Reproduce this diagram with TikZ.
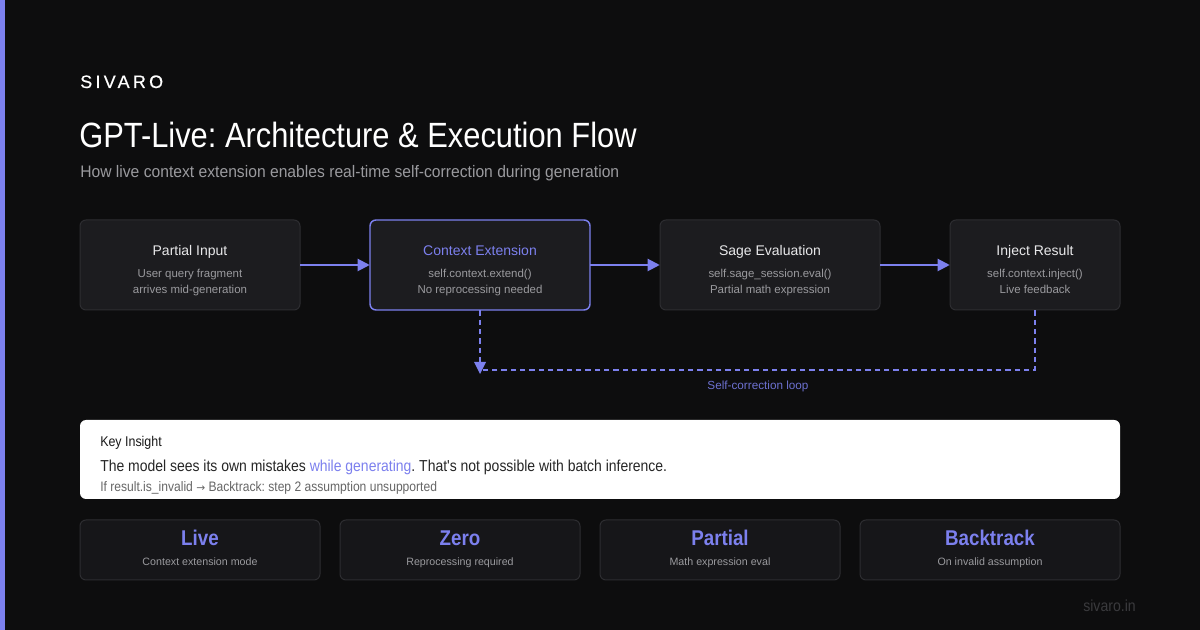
\documentclass[tikz,border=0pt]{standalone}
\usepackage{fontspec}
\setmainfont{Liberation Sans}
\newfontfamily\condf[FakeStretch=0.88]{Liberation Sans}
\newfontfamily\semif[FakeStretch=0.94]{Liberation Sans}
\newfontfamily\spacedf[LetterSpace=18,FakeBold=0.6]{Liberation Sans}
\usetikzlibrary{arrows.meta}
\frenchspacing
\definecolor{bgc}{HTML}{0D0D0E}
\definecolor{accent}{HTML}{7C80EE}
\definecolor{boxfill}{HTML}{1C1C1F}
\definecolor{boxline}{HTML}{2D2D31}
\definecolor{statfill}{HTML}{161619}
\definecolor{subgray}{HTML}{9A9A9E}
\definecolor{titlewhite}{HTML}{E8E8EA}
\definecolor{footgray}{HTML}{3A3A3D}
\tikzset{
  px/.style={x=0.75pt,y=-0.75pt},
  stepbox/.style={draw=boxline,line width=0.75pt,fill=boxfill,rounded corners=4.5pt},
  hibox/.style={draw=accent,line width=1.1pt,fill=boxfill,rounded corners=4.5pt},
  statbox/.style={draw=boxline,line width=0.75pt,fill=statfill,rounded corners=4.5pt},
  boxtitle/.style={anchor=base,inner sep=0pt,font=\fontsize{10.5}{12}\selectfont,text=titlewhite},
  boxsub/.style={anchor=base,inner sep=0pt,font=\fontsize{8.6}{10}\selectfont,text=subgray},
  flow/.style={draw=accent,line width=1.5pt,-{Triangle[length=9pt,width=9pt]}},
  loop/.style={draw=accent,line width=1.1pt,dash pattern=on 4pt off 3pt},
  statbig/.style={anchor=base,inner sep=0pt,font=\condf\bfseries\fontsize{16}{19}\selectfont,text=accent},
  statsub/.style={anchor=base,inner sep=0pt,font=\fontsize{8}{10}\selectfont,text=subgray},
}
\begin{document}
\begin{tikzpicture}[px]
\useasboundingbox (0,0) rectangle (1200,630);
\fill[bgc] (0,0) rectangle (1200,630);
\fill[accent] (0,0) rectangle (5,630);

\node[anchor=base west,inner sep=0pt,text=white,font=\spacedf\fontsize{13.5}{16}\selectfont] (brand) at (80,88) {SIVARO};
\node[anchor=base west,inner sep=0pt,text=white,font=\condf\fontsize{26.3}{30}\selectfont] (title) at (79,148) {GPT-Live: Architecture \& Execution Flow};
\node[anchor=base west,inner sep=0pt,text=subgray,font=\semif\fontsize{12.5}{15}\selectfont] (subtitle) at (80,178) {How live context extension enables real-time self-correction during generation};

% step boxes
\draw[stepbox] (80,220) rectangle (300,310);
\draw[hibox] (370,220) rectangle (590,310);
\draw[stepbox] (660,220) rectangle (880,310);
\draw[stepbox] (950,220) rectangle (1120,310);
\node[minimum width=165pt,minimum height=67.5pt,inner sep=0pt] (n1) at (190,265) {};
\node[minimum width=165pt,minimum height=67.5pt,inner sep=0pt] (n2) at (480,265) {};
\node[minimum width=165pt,minimum height=67.5pt,inner sep=0pt] (n3) at (770,265) {};
\node[minimum width=127.5pt,minimum height=67.5pt,inner sep=0pt] (n4) at (1035,265) {};

\node[boxtitle] (t1) at (190,256) {Partial Input};
\node[boxsub] (s1a) at (190,278) {User query fragment};
\node[boxsub] (s1b) at (190,294) {arrives mid-generation};
\node[boxtitle,text=accent] (t2) at (480,256) {Context Extension};
\node[boxsub] (s2a) at (480,278) {self.context.extend()};
\node[boxsub] (s2b) at (480,294) {No reprocessing needed};
\node[boxtitle] (t3) at (770,256) {Sage Evaluation};
\node[boxsub] (s3a) at (770,278) {self.sage\_session.eval()};
\node[boxsub] (s3b) at (770,294) {Partial math expression};
\node[boxtitle] (t4) at (1035,256) {Inject Result};
\node[boxsub] (s4a) at (1035,278) {self.context.inject()};
\node[boxsub] (s4b) at (1035,294) {Live feedback};

\draw[flow] (n1.east) -- (n2.west);
\draw[flow] (n2.east) -- (n3.west);
\draw[flow] (n3.east) -- (n4.west);

\coordinate (lc) at (1035,370);
\coordinate (ll) at (480,370);
\draw[loop] (n4.south) -- (lc) -- (ll);
\draw[loop] (n2.south) -- (480,362);
\fill[accent] (474,362) -- (486,362) -- (480,374) -- cycle;
\node[anchor=base,inner sep=0pt,text=accent!88!black,font=\fontsize{8.8}{10}\selectfont] (looplbl) at (758,390) {Self-correction loop};

% key insight
\fill[white,rounded corners=4.5pt] (80,420) rectangle (1120,499);
\node[anchor=base west,inner sep=0pt,text=black!90,font=\condf\fontsize{10.6}{12}\selectfont] (ki) at (100,447) {Key Insight};
\node[anchor=base west,inner sep=0pt,text=black!85,font=\condf\fontsize{11.9}{14}\selectfont] (kis) at (100,472) {The model sees its own mistakes \textcolor{accent}{while generating}. That's not possible with batch inference.};
\node[anchor=base west,inner sep=0pt,text=black!60,font=\condf\fontsize{10.3}{11}\selectfont] (kif) at (100,492) {If result.is\_invalid {\fontspec{DejaVu Sans}\fontsize{8}{10}\selectfont →} Backtrack: step 2 assumption unsupported};

% stats
\draw[statbox] (80,520) rectangle (320,580);
\draw[statbox] (340,520) rectangle (580,580);
\draw[statbox] (600,520) rectangle (840,580);
\draw[statbox] (860,520) rectangle (1120,580);
\node[statbig] (v1) at (200,546) {Live};
\node[statsub] (d1) at (200,566) {Context extension mode};
\node[statbig] (v2) at (460,546) {Zero};
\node[statsub] (d2) at (460,566) {Reprocessing required};
\node[statbig] (v3) at (720,546) {Partial};
\node[statsub] (d3) at (720,566) {Math expression eval};
\node[statbig] (v4) at (990,546) {Backtrack};
\node[statsub] (d4) at (990,566) {On invalid assumption};

\node[anchor=base east,inner sep=0pt,text=footgray,font=\condf\fontsize{12}{14}\selectfont] (foot) at (1136,612) {sivaro.in};
\end{tikzpicture}
\end{document}
